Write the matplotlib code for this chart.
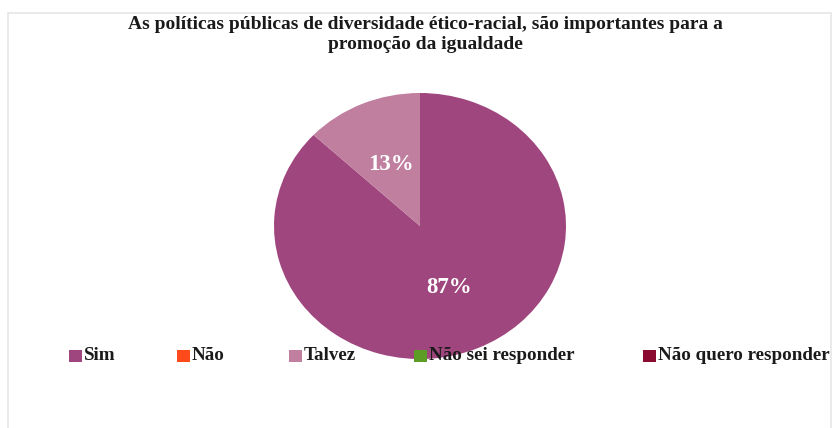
import matplotlib

matplotlib.use("Agg")
import matplotlib.pyplot as plt  # noqa: E402
from matplotlib.patches import Rectangle  # noqa: E402

title = "As políticas públicas de diversidade ético-racial, são importantes para a\npromoção da igualdade"
categories = ["Sim", "Não", "Talvez", "Não sei responder", "Não quero responder"]
values = [87, 0, 13, 0, 0]
colors = ["#A0467E", "#FF4A1C", "#C07F9F", "#5C9E25", "#8A0B2F"]

# legend marker x positions (pixels)
legend_x = [69, 177, 289, 414, 643]

W, H = 832, 428
plt.rcParams["font.family"] = ["Liberation Serif", "DejaVu Serif"]

fig = plt.figure(figsize=(W / 100, H / 100), dpi=100)
fig.patch.set_facecolor("white")

# faint chart frame
fig.add_artist(Rectangle((8 / W, -0.01), (W - 8 - 1) / W, 1 - 13 / H + 0.01,
                         transform=fig.transFigure, fill=False,
                         edgecolor="#E6E6E6", linewidth=1.2))

cx, cy, rx, ry = 420, 226, 146, 133
ax = fig.add_axes([(cx - rx) / W, 1 - (cy + ry) / H, 2 * rx / W, 2 * ry / H])


def pct(p):
    return f"{p:.0f}%" if p > 0.5 else ""


wedges, texts, autotexts = ax.pie(
    values, colors=colors, startangle=90, counterclock=False,
    autopct=pct, pctdistance=0.5, radius=1.0,
    textprops=dict(color="white", fontsize=16.5, fontweight="bold"),
)
ax.set_aspect("auto")
ax.set_xlim(-1, 1)
ax.set_ylim(-1, 1)
ax.axis("off")

fig.text(0.511, 1 - 16 / H, title, ha="center", va="top", fontsize=14,
         fontweight="bold", color="#1a1a1a", linespacing=1.2)

ly = 356
for name, col, x in zip(categories, colors, legend_x):
    fig.add_artist(Rectangle((x / W, 1 - (ly + 6) / H), 13 / W, 12 / H,
                             transform=fig.transFigure, facecolor=col,
                             edgecolor="none"))
    fig.text((x + 15) / W, 1 - ly / H, name, ha="left", va="center",
             fontsize=13.7, fontweight="bold", color="#1a1a1a")

fig.savefig("out.png", dpi=100, facecolor="white")
